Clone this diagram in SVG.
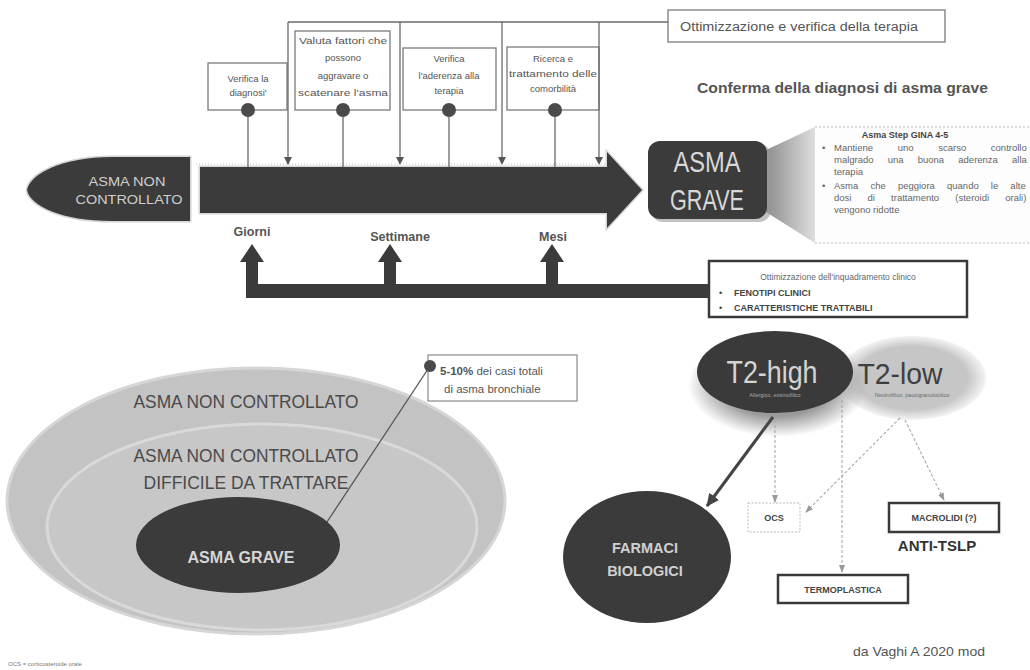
<svg xmlns="http://www.w3.org/2000/svg" width="1030" height="670" viewBox="0 0 1030 670">
<defs>
<style>
text{font-family:"Liberation Sans",Arial,sans-serif}
.box{fill:#fff;stroke:#7a7a7a;stroke-width:1.3}
.lbl{font-size:9.5px;fill:#555;text-anchor:middle}
.thin{stroke:#6a6a6a;stroke-width:1.3;fill:none}
.pin{fill:#4a4a4a}
.dk{fill:#3b3b3b}
.dash{stroke:#a8a8a8;stroke-width:1.1;stroke-dasharray:3 2;fill:none}
.bbox{fill:#fff;stroke:#3a3a3a;stroke-width:2.5}
.axis{font-size:12.5px;font-weight:bold;fill:#555;text-anchor:middle}
.gina{font-size:9.5px;fill:#666}
.tiny{font-size:9px;font-weight:bold;fill:#444;text-anchor:middle}
</style>
<marker id="down" markerWidth="8" markerHeight="8" refX="7" refY="4" orient="auto" markerUnits="userSpaceOnUse">
<path d="M0,0 L8,4 L0,8 Z" fill="#555"/>
</marker>
<marker id="dotTip" markerWidth="8" markerHeight="8" refX="7" refY="4" orient="auto" markerUnits="userSpaceOnUse">
<path d="M0,1 L8,4 L0,7 Z" fill="#999"/>
</marker>
<marker id="bigTip" markerWidth="14" markerHeight="12" refX="12" refY="6" orient="auto" markerUnits="userSpaceOnUse">
<path d="M0,0 L13,6 L0,12 Z" fill="#444"/>
</marker>
<linearGradient id="wedge" x1="0" y1="0" x2="1" y2="0">
<stop offset="0" stop-color="#8e8e8e"/>
<stop offset="1" stop-color="#dedede"/>
</linearGradient>
<radialGradient id="halo" cx="0.5" cy="0.5" r="0.5">
<stop offset="0.6" stop-color="#9a9a9a"/>
<stop offset="1" stop-color="#9a9a9a" stop-opacity="0"/>
</radialGradient>
<radialGradient id="lowFill" cx="0.5" cy="0.5" r="0.5">
<stop offset="0.75" stop-color="#c6c6c6"/>
<stop offset="1" stop-color="#c6c6c6" stop-opacity="0.2"/>
</radialGradient>
</defs>

<rect width="1030" height="670" fill="#fff"/>

<g id="title-frame">
  <rect class="box" x="668" y="10" width="277" height="32"/>
  <text x="680" y="31" font-size="12.5" fill="#555" textLength="238" lengthAdjust="spacingAndGlyphs">Ottimizzazione e verifica della terapia</text>
</g>

<g id="step-diagnosi">
  <rect class="box" x="208" y="63" width="79" height="47"/>
  <text class="lbl" x="248" y="82">Verifica la</text>
  <text class="lbl" x="248" y="96">diagnosi'</text>
  <circle class="pin" cx="248" cy="110" r="7"/>
</g>
<g id="step-fattori">
  <rect class="box" x="295" y="31" width="95" height="79"/>
  <text class="lbl" x="343" y="44" textLength="88" lengthAdjust="spacingAndGlyphs">Valuta fattori che</text>
  <text class="lbl" x="343" y="61">possono</text>
  <text class="lbl" x="343" y="79">aggravare o</text>
  <text class="lbl" x="343" y="96" textLength="90" lengthAdjust="spacingAndGlyphs">scatenare l'asma</text>
  <circle class="pin" cx="343" cy="110" r="7"/>
</g>
<g id="step-aderenza">
  <rect class="box" x="403" y="48" width="93" height="62"/>
  <text class="lbl" x="449" y="62">Verifica</text>
  <text class="lbl" x="449" y="79">l'aderenza alla</text>
  <text class="lbl" x="449" y="94">terapia</text>
  <circle class="pin" cx="449" cy="110" r="7"/>
</g>
<g id="step-comorbilita">
  <rect class="box" x="507" y="47" width="92" height="63"/>
  <text class="lbl" x="553" y="62">Ricerca e</text>
  <text class="lbl" x="553" y="77" textLength="88" lengthAdjust="spacingAndGlyphs">trattamento delle</text>
  <text class="lbl" x="553" y="92">comorbilità</text>
  <circle class="pin" cx="555" cy="110" r="7"/>
</g>

<g id="asma-non-controllato">
  <path d="M190,157 L112,157 C62,157 30,174 27,190 C30,206 62,221 112,221 L190,221 Z" fill="#3b3b3b" stroke="#d4d4d4" stroke-width="3" paint-order="stroke"/>
  <text x="127" y="186" font-size="13" fill="#cfcfcf" text-anchor="middle" textLength="77" lengthAdjust="spacingAndGlyphs">ASMA NON</text>
  <text x="129" y="204" font-size="13" fill="#cfcfcf" text-anchor="middle" textLength="107" lengthAdjust="spacingAndGlyphs">CONTROLLATO</text>
</g>

<g id="timeline">
  <path d="M200,167 H607 V152 L642,190 L607,228 V213 H200 Z" fill="#3b3b3b" stroke="#d6d6d6" stroke-width="3" paint-order="stroke"/>
  <text class="axis" x="252" y="236">Giorni</text>
  <text class="axis" x="400" y="241">Settimane</text>
  <text class="axis" x="553" y="241">Mesi</text>
</g>

<g id="conferma">
  <text x="697" y="93" font-size="14.5" font-weight="bold" fill="#555" textLength="291" lengthAdjust="spacingAndGlyphs">Conferma della diagnosi di asma grave</text>
</g>

<g id="asma-grave-box">
  <polygon points="766,150 815,127 815,243 766,212" fill="url(#wedge)"/>
  <rect x="651" y="144" width="120" height="78" rx="12" fill="#9a9a9a" opacity="0.6"/>
  <rect x="648" y="141" width="119" height="78" rx="12" fill="#3b3b3b"/>
  <text x="707" y="172" font-size="29" fill="#d8d8d8" text-anchor="middle" textLength="67" lengthAdjust="spacingAndGlyphs">ASMA</text>
  <text x="707" y="210" font-size="29" fill="#d8d8d8" text-anchor="middle" textLength="74" lengthAdjust="spacingAndGlyphs">GRAVE</text>
</g>

<g id="gina">
  <rect x="815" y="127" width="215" height="116" fill="#fdfdfd"/>
  <path d="M815,127 H1030 M815,243 H1030" stroke="#bbb" stroke-width="1" stroke-dasharray="2 2"/>
  <text x="905" y="138" font-size="9" font-weight="bold" fill="#444" text-anchor="middle">Asma Step GINA 4-5</text>
  <text class="gina" x="822" y="151">•</text>
  <text class="gina" x="834" y="151" word-spacing="22">Mantiene uno scarso controllo</text>
  <text class="gina" x="834" y="163" word-spacing="11.5">malgrado una buona aderenza alla</text>
  <text class="gina" x="834" y="175">terapia</text>
  <text class="gina" x="822" y="189">•</text>
  <text class="gina" x="834" y="189" word-spacing="9.5">Asma che peggiora quando le alte</text>
  <text class="gina" x="834" y="201" word-spacing="13.5">dosi di trattamento (steroidi orali)</text>
  <text class="gina" x="834" y="213">vengono ridotte</text>
</g>

<g id="inquadramento">
  <rect class="bbox" x="709" y="261" width="258" height="56"/>
  <text x="838" y="280" font-size="8.5" fill="#666" text-anchor="middle">Ottimizzazione dell'inquadramento clinico</text>
  <text x="719" y="296" font-size="9" fill="#444">•</text>
  <text x="734" y="296" font-size="9" font-weight="bold" fill="#444">FENOTIPI CLINICI</text>
  <text x="719" y="311" font-size="9" fill="#444">•</text>
  <text x="734" y="311" font-size="9" font-weight="bold" fill="#444">CARATTERISTICHE TRATTABILI</text>
</g>

<g id="popolazione">
  <ellipse cx="256" cy="501" rx="249" ry="133" fill="#c3c3c3" stroke="#d6d6d6" stroke-width="3"/>
  <ellipse cx="262" cy="527" rx="215" ry="103" fill="#c7c7c7" stroke="#d9d9d9" stroke-width="3"/>
  <text x="246" y="408" font-size="19" fill="#4a4a4a" text-anchor="middle" textLength="225" lengthAdjust="spacingAndGlyphs">ASMA NON CONTROLLATO</text>
  <text x="246" y="462" font-size="19" fill="#4a4a4a" text-anchor="middle" textLength="225" lengthAdjust="spacingAndGlyphs">ASMA NON CONTROLLATO</text>
  <text x="246" y="489" font-size="19" fill="#4a4a4a" text-anchor="middle" textLength="205" lengthAdjust="spacingAndGlyphs">DIFFICILE DA TRATTARE</text>
</g>

<g id="asma-grave-ellisse">
  <ellipse cx="238" cy="545" rx="102" ry="48" fill="#3b3b3b"/>
  <text x="241" y="563" font-size="16" font-weight="bold" fill="#d6d6d6" text-anchor="middle" textLength="107" lengthAdjust="spacingAndGlyphs">ASMA GRAVE</text>
</g>

<g id="quota">
  <rect x="428" y="355" width="149" height="46" fill="#fff" stroke="#8a8a8a" stroke-width="1.2"/>
  <text x="440" y="375" font-size="11.5" fill="#555"><tspan font-weight="bold">5-10%</tspan> dei casi totali</text>
  <text x="444" y="393" font-size="11.5" fill="#555">di asma bronchiale</text>
</g>

<g id="t2-low">
  <ellipse cx="912" cy="378" rx="74" ry="42" fill="url(#lowFill)"/>
  <text x="900" y="384" font-size="30" fill="#3f3f3f" text-anchor="middle" textLength="85" lengthAdjust="spacingAndGlyphs">T2-low</text>
  <text x="912" y="397" font-size="5.5" fill="#666" text-anchor="middle">Neutrofilico, paucigranulocitico</text>
</g>

<g id="t2-high">
  <ellipse cx="778" cy="385" rx="90" ry="52" fill="url(#halo)"/>
  <ellipse cx="775" cy="372" rx="78" ry="41" fill="#3a3a3a"/>
  <text x="772" y="383" font-size="31" fill="#d4d4d4" text-anchor="middle" textLength="91" lengthAdjust="spacingAndGlyphs">T2-high</text>
  <text x="775" y="397" font-size="5.5" fill="#aaa" text-anchor="middle">Allergico, eosinofilico</text>
</g>

<g id="farmaci-biologici">
  <ellipse cx="647" cy="557" rx="84" ry="66" fill="#3b3b3b"/>
  <text x="645" y="553" font-size="14.5" font-weight="bold" fill="#d0d0d0" text-anchor="middle">FARMACI</text>
  <text x="645" y="576" font-size="14.5" font-weight="bold" fill="#d0d0d0" text-anchor="middle">BIOLOGICI</text>
</g>

<g id="ocs">
  <rect x="748" y="503" width="52" height="29" fill="#fff" stroke="#bbb" stroke-width="1" stroke-dasharray="2 1.5"/>
  <text class="tiny" x="774" y="521">OCS</text>
</g>

<g id="macrolidi">
  <rect class="bbox" x="889" y="503" width="110" height="29"/>
  <text class="tiny" x="944" y="521">MACROLIDI (?)</text>
  <text x="937" y="551" font-size="15" font-weight="bold" fill="#333" text-anchor="middle">ANTI-TSLP</text>
</g>

<g id="termoplastica">
  <rect class="bbox" x="778" y="575" width="130" height="28"/>
  <text class="tiny" x="843" y="593">TERMOPLASTICA</text>
</g>

<!-- connectors: therapy-optimisation frame, milestone stems, feedback bar, pointer, phenotype links -->
<g id="connectors">
  <path class="thin" d="M288,22 H668"/>
  <path class="thin" d="M288,22 V164" marker-end="url(#down)"/>
  <path class="thin" d="M400,22 V164" marker-end="url(#down)"/>
  <path class="thin" d="M502,22 V164" marker-end="url(#down)"/>
  <path class="thin" d="M599,22 V164" marker-end="url(#down)"/>
  <path d="M196,164 H606" stroke="#cbbcbc" stroke-width="1" stroke-dasharray="1 2" fill="none"/>
  <path class="thin" d="M248,117 V167 M343,117 V167 M449,117 V167 M555,117 V167"/>

  <!-- feedback bar with three upward arrows -->
  <path class="dk" d="M246,284 H708 V298 H246 Z"/>
  <path class="dk" d="M246,298 V262 H240 L252,244 L264,262 H258 V298 Z"/>
  <path class="dk" d="M384,298 V262 H378 L390,244 L402,262 H396 V298 Z"/>
  <path class="dk" d="M546,298 V262 H540 L552,244 L564,262 H558 V298 Z"/>

  <!-- pointer from the severe-asthma share to its label -->
  <path d="M327,522 L430,366" stroke="#555" stroke-width="1.3" fill="none"/>
  <circle class="pin" cx="430" cy="366" r="6"/>

  <!-- phenotype links -->
  <path d="M773,417 L707,506" stroke="#444" stroke-width="3" fill="none" marker-end="url(#bigTip)"/>
  <path class="dash" d="M775,420 V502" marker-end="url(#dotTip)"/>
  <path class="dash" d="M900,418 L806,512" marker-end="url(#dotTip)"/>
  <path class="dash" d="M905,420 L944,500" marker-end="url(#dotTip)"/>
  <path class="dash" d="M842,400 V572" marker-end="url(#dotTip)"/>
</g>

<text x="853" y="656" font-size="13" fill="#555" textLength="132" lengthAdjust="spacingAndGlyphs">da Vaghi A 2020 mod</text>
<text x="8" y="666" font-size="6" fill="#777">OCS = corticosteroide orale</text>
</svg>
